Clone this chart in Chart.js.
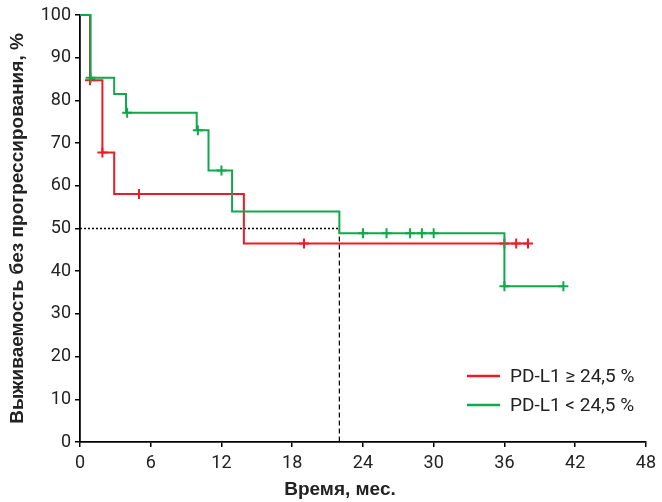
<!DOCTYPE html>
<html>
<head>
<meta charset="utf-8">
<script src="https://cdn.jsdelivr.net/npm/chart.js@4/dist/chart.umd.min.js"></script>
<style>
html,body{margin:0;padding:0;background:#fff}
#contenedor{width:662px;height:502px}
</style>
</head>
<body>
<div id="contenedor"><canvas id="grafico_sobrevida"></canvas></div>
<script>
// ---- datos ----
var etiquetas = ["PD-L1 \u2265 24,5 %", "PD-L1 < 24,5 %"];
var titulo_x = "Время, мес.";
var titulo_y = "Выживаемость без прогрессирования, %";

// PD-L1 >= 24,5 (rojo)
var tiempo_alto = [0, 0.85, 1.9, 2.9, 13.9, 38];
var sobrev_alto = [100, 84.7, 67.8, 58.1, 46.5, 46.5];
var censura_alto_t = [0.85, 1.9, 5, 19, 36, 37, 38];
var censura_alto_s = [84.7, 67.8, 58.1, 46.5, 46.5, 46.5, 46.5];

// PD-L1 < 24,5 (verde)
var tiempo_bajo = [0, 0.9, 2.9, 3.9, 9.9, 10.9, 12.9, 22, 36, 41];
var sobrev_bajo = [100, 85.3, 81.5, 77.1, 73.0, 63.6, 54.0, 48.9, 36.5, 36.5];
var censura_bajo_t = [0.9, 4, 10, 12, 24, 26, 28, 29, 30, 36, 41];
var censura_bajo_s = [85.3, 77.1, 73.0, 63.6, 48.9, 48.9, 48.9, 48.9, 48.9, 36.5, 36.5];

// mediana
var mediana_t = 22;
var mediana_nivel = 50;

var ticks_x = [0, 6, 12, 18, 24, 30, 36, 42, 48];
var ticks_y = [0, 10, 20, 30, 40, 50, 60, 70, 80, 90, 100];

var rojo = "#ed1c24";
var verde = "#0fa94c";
var fuente = "'Roboto', sans-serif";
var fuente_titulo = "'Liberation Sans', sans-serif";

function puntos(t, s){
	var res = [];
	for(var i=0;i<t.length;i++){
		res.push({x:t[i], y:s[i]});
	}
	return res;
}

// leyenda y titulo X dibujados a mano
var extras = {
	id: "extras",
	afterDatasetsDraw: function(chart){
		var ctx = chart.ctx;
		var colores = [rojo, verde];
		ctx.save();
		ctx.font = "19px " + fuente;
		ctx.textBaseline = "middle";
		ctx.fillStyle = "#222";
		for(var i=0;i<etiquetas.length;i++){
			var y = 376 + i*29;
			ctx.strokeStyle = colores[i];
			ctx.lineWidth = 2.5;
			ctx.beginPath();
			ctx.moveTo(467, y);
			ctx.lineTo(500, y);
			ctx.stroke();
			ctx.fillText(etiquetas[i], 510, y+1);
		}
		//titulo eje x
		ctx.font = "bold 19px " + fuente_titulo;
		ctx.textAlign = "center";
		ctx.fillText(titulo_x, 340, 490);
		ctx.restore();
	}
};

new Chart(document.getElementById("grafico_sobrevida"), {
	type: "line",
	data: {
		datasets: [
			{
				label: etiquetas[1],
				data: puntos(tiempo_bajo, sobrev_bajo),
				borderColor: verde,
				borderWidth: 2,
				stepped: "before",
				pointRadius: 0,
				fill: false,
				clip: false,
				order: 1
			},
			{
				label: etiquetas[1] + " censura",
				data: puntos(censura_bajo_t, censura_bajo_s),
				showLine: false,
				pointStyle: "cross",
				pointRadius: 5,
				borderColor: verde,
				borderWidth: 2,
				clip: false,
				order: 0
			},
			{
				label: etiquetas[0],
				data: puntos(tiempo_alto, sobrev_alto),
				borderColor: rojo,
				borderWidth: 2,
				stepped: "before",
				pointRadius: 0,
				fill: false,
				clip: false,
				order: 3
			},
			{
				label: etiquetas[0] + " censura",
				data: puntos(censura_alto_t, censura_alto_s),
				showLine: false,
				pointStyle: "cross",
				pointRadius: 5,
				borderColor: rojo,
				borderWidth: 2,
				clip: false,
				order: 2
			},
			{
				label: "mediana h",
				data: [{x:0, y:mediana_nivel}, {x:mediana_t, y:mediana_nivel}],
				borderColor: "#000",
				borderWidth: 1.5,
				borderDash: [2, 2],
				pointRadius: 0,
				order: 4
			},
			{
				label: "mediana v",
				data: [{x:mediana_t, y:mediana_nivel}, {x:mediana_t, y:0}],
				borderColor: "#000",
				borderWidth: 1.2,
				borderDash: [5, 3],
				pointRadius: 0,
				order: 4
			}
		]
	},
	options: {
		responsive: true,
		maintainAspectRatio: false,
		animation: false,
		layout: { padding: { top: 15, right: 7, left: 0, bottom: 0 } },
		plugins: {
			legend: { display: false },
			tooltip: { enabled: false }
		},
		scales: {
			x: {
				type: "linear",
				min: 0,
				max: 48,
				afterBuildTicks: function(scale){
					scale.ticks = ticks_x.map(function(v){ return {value:v}; });
				},
				afterFit: function(scale){ scale.height = 60; },
				grid: { drawOnChartArea: false, drawTicks: true, tickLength: 5, color: "#000", lineWidth: 1.5 },
				border: { color: "#000", width: 1.8 },
				ticks: { color: "#222", font: { size: 18, family: fuente }, padding: 6, maxRotation: 0 },
				title: { display: false }
			},
			y: {
				min: 0,
				max: 100,
				afterBuildTicks: function(scale){
					scale.ticks = ticks_y.map(function(v){ return {value:v}; });
				},
				afterFit: function(scale){ scale.width = 80; },
				grid: { drawOnChartArea: false, drawTicks: true, tickLength: 5, color: "#000", lineWidth: 1.5 },
				border: { color: "#000", width: 1.8 },
				ticks: { color: "#222", font: { size: 18, family: fuente }, padding: 4 },
				title: { display: true, text: titulo_y, color: "#222", font: { size: 19, weight: "bold", family: fuente_titulo }, padding: { top: 6, bottom: 2 } }
			}
		}
	},
	plugins: [extras]
});
</script>
</body>
</html>
